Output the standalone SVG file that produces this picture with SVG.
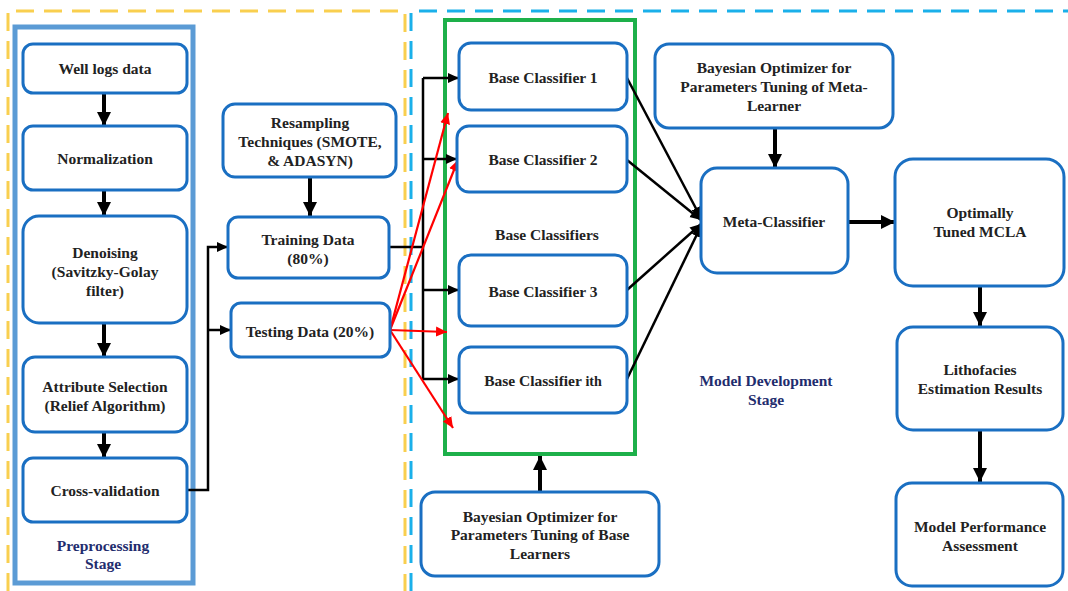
<svg xmlns="http://www.w3.org/2000/svg" width="1068" height="591" viewBox="0 0 1068 591">
<style>
.node{fill:#fff;stroke:#1a6fc2;stroke-width:3}
.t{font-family:"Liberation Serif","Times New Roman","DejaVu Serif",serif;font-weight:bold;font-size:15.5px;fill:#222;text-anchor:middle}
.stage{font-family:"Liberation Serif","Times New Roman","DejaVu Serif",serif;font-weight:bold;font-size:15.5px;fill:#1f2d6e;text-anchor:middle}
.thick{stroke:#000;stroke-width:4;fill:none}
.thin{stroke:#000;stroke-width:2.5;fill:none}
.red{stroke:#f00;stroke-width:2.2;fill:none}
</style>
<defs>
<marker id="aT" markerUnits="userSpaceOnUse" markerWidth="16" markerHeight="16" refX="14" refY="8" orient="auto"><path d="M0,1 L14,8 L0,15 z" fill="#000"/></marker>
<marker id="aS" markerUnits="userSpaceOnUse" markerWidth="12" markerHeight="12" refX="11" refY="6" orient="auto"><path d="M0,1 L11,6 L0,11 z" fill="#000"/></marker>
<marker id="aR" markerUnits="userSpaceOnUse" markerWidth="12" markerHeight="12" refX="11" refY="6" orient="auto"><path d="M0,1 L11,6 L0,11 z" fill="#f00"/></marker>
</defs>
<rect width="1068" height="591" fill="#fff"/>
<g id="borders">
<path d="M8,591 V11 H405 V591" fill="none" stroke="#f9cf4f" stroke-width="3" stroke-dasharray="18,10"/>
<path d="M411,591 V11 H1068" fill="none" stroke="#1ab0ea" stroke-width="3" stroke-dasharray="18,10"/>
<rect x="15" y="27" width="178" height="556" fill="none" stroke="#5b9bd5" stroke-width="5"/>
<rect x="445" y="20" width="190" height="434" fill="none" stroke="#1db04a" stroke-width="4"/>
</g>
<g id="connectors">
<path class="thick" d="M104,93 V126" marker-end="url(#aT)"/>
<path class="thick" d="M104,190 V216" marker-end="url(#aT)"/>
<path class="thick" d="M104,323 V357" marker-end="url(#aT)"/>
<path class="thick" d="M104,432 V458" marker-end="url(#aT)"/>
<path class="thick" d="M310,177 V216" marker-end="url(#aT)"/>
<path class="thick" d="M540,492 V456" marker-end="url(#aT)"/>
<path class="thick" d="M775,128 V168" marker-end="url(#aT)"/>
<path class="thick" d="M848,222 H895" marker-end="url(#aT)"/>
<path class="thick" d="M980,286 V326" marker-end="url(#aT)"/>
<path class="thick" d="M980,430 V482" marker-end="url(#aT)"/>
<path class="thin" d="M187,490 H208 V247 H228" marker-end="url(#aS)"/>
<path class="thin" d="M208,330 H231" marker-end="url(#aS)"/>
<path class="thin" d="M389,247 H423"/>
<path class="thin" d="M423,78 V380"/>
<path class="thin" d="M423,78 H459" marker-end="url(#aS)"/>
<path class="thin" d="M423,159 H457" marker-end="url(#aS)"/>
<path class="thin" d="M423,290 H459" marker-end="url(#aS)"/>
<path class="thin" d="M423,379 H459" marker-end="url(#aS)"/>
<path class="thin" d="M627,78 L701,218" marker-end="url(#aS)"/>
<path class="thin" d="M627,160 L701,220" marker-end="url(#aS)"/>
<path class="thin" d="M627,290 L701,224" marker-end="url(#aS)"/>
<path class="thin" d="M627,379 L701,226" marker-end="url(#aS)"/>
<path class="red" d="M390,330 L448,113" marker-end="url(#aR)"/>
<path class="red" d="M390,330 L458,160" marker-end="url(#aR)"/>
<path class="red" d="M390,330 L447,332" marker-end="url(#aR)"/>
<path class="red" d="M390,330 L453,428" marker-end="url(#aR)"/>
</g>
<g id="n-welllogs"><rect class="node" x="23" y="44" width="164" height="49" rx="10"/><text class="t" x="105" y="74">Well logs data</text></g>
<g id="n-normalization"><rect class="node" x="23" y="126" width="164" height="64" rx="10"/><text class="t" x="105" y="164">Normalization</text></g>
<g id="n-denoising"><rect class="node" x="23" y="216" width="164" height="107" rx="16"/><text class="t" x="105" y="258">Denoising</text><text class="t" x="105" y="277">(Savitzky-Golay</text><text class="t" x="105" y="296">filter)</text></g>
<g id="n-attribute"><rect class="node" x="23" y="357" width="164" height="75" rx="12"/><text class="t" x="105" y="392">Attribute Selection</text><text class="t" x="105" y="411">(Relief Algorithm)</text></g>
<g id="n-crossval"><rect class="node" x="23" y="458" width="164" height="64" rx="10"/><text class="t" x="105" y="496">Cross-validation</text></g>
<g id="l-preprocessing"><text class="stage" x="103" y="551">Preprocessing</text><text class="stage" x="103" y="569">Stage</text></g>
<g id="n-resampling"><rect class="node" x="223" y="104" width="173" height="73" rx="12"/><text class="t" x="310" y="128">Resampling</text><text class="t" x="310" y="147">Techniques (SMOTE,</text><text class="t" x="310" y="166">&amp; ADASYN)</text></g>
<g id="n-training"><rect class="node" x="228" y="217" width="161" height="61" rx="10"/><text class="t" x="308" y="245">Training Data</text><text class="t" x="308" y="264">(80%)</text></g>
<g id="n-testing"><rect class="node" x="231" y="303" width="159" height="54" rx="10"/><text class="t" x="310" y="337">Testing Data (20%)</text></g>
<g id="n-bc1"><rect class="node" x="459" y="43" width="168" height="67" rx="12"/><text class="t" x="543" y="83">Base Classifier 1</text></g>
<g id="n-bc2"><rect class="node" x="457" y="126" width="170" height="66" rx="12"/><text class="t" x="543" y="165">Base Classifier 2</text></g>
<g id="l-baseclassifiers"><text class="t" x="547" y="240">Base Classifiers</text></g>
<g id="n-bc3"><rect class="node" x="459" y="255" width="168" height="71" rx="12"/><text class="t" x="543" y="297">Base Classifier 3</text></g>
<g id="n-bci"><rect class="node" x="459" y="347" width="168" height="66" rx="12"/><text class="t" x="543" y="386">Base Classifier <tspan font-size="14">ith</tspan></text></g>
<g id="n-bayes-base"><rect class="node" x="421" y="492" width="238" height="84" rx="14"/><text class="t" x="540" y="522">Bayesian Optimizer for</text><text class="t" x="540" y="540">Parameters Tuning of Base</text><text class="t" x="540" y="559">Learners</text></g>
<g id="n-bayes-meta"><rect class="node" x="655" y="44" width="238" height="84" rx="14"/><text class="t" x="774" y="73">Bayesian Optimizer for</text><text class="t" x="774" y="92">Parameters Tuning of Meta-</text><text class="t" x="774" y="111">Learner</text></g>
<g id="n-meta"><rect class="node" x="701" y="168" width="147" height="105" rx="16"/><text class="t" x="774" y="227">Meta-Classifier</text></g>
<g id="n-optimal"><rect class="node" x="895" y="159" width="169" height="127" rx="18"/><text class="t" x="980" y="218">Optimally</text><text class="t" x="980" y="237">Tuned MCLA</text></g>
<g id="n-litho"><rect class="node" x="897" y="327" width="166" height="103" rx="16"/><text class="t" x="980" y="375">Lithofacies</text><text class="t" x="980" y="394">Estimation Results</text></g>
<g id="n-perf"><rect class="node" x="896" y="483" width="167" height="103" rx="16"/><text class="t" x="980" y="532">Model Performance</text><text class="t" x="980" y="551">Assessment</text></g>
<g id="l-modeldev"><text class="stage" x="766" y="386">Model Development</text><text class="stage" x="766" y="405">Stage</text></g>
</svg>
